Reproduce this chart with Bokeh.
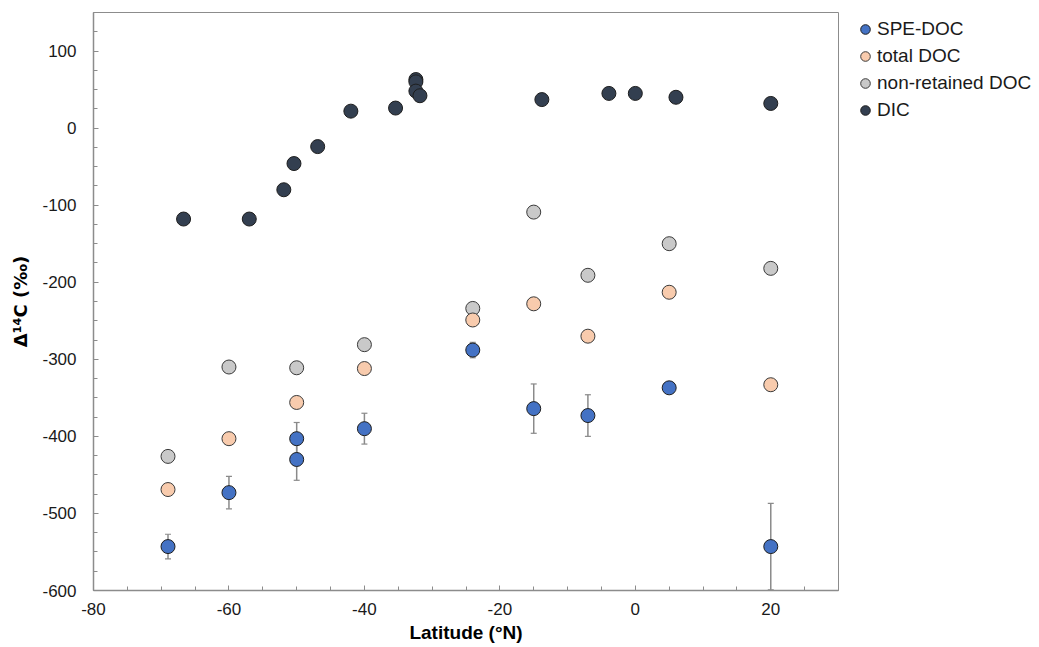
from bokeh.plotting import figure
from bokeh.models import (Range1d, SingleIntervalTicker, Whisker, ColumnDataSource,
                          Legend, LegendItem, TeeHead, PrintfTickFormatter)
from bokeh.embed import file_html
from bokeh.resources import INLINE

# SPE-DOC radiocarbon with analytical uncertainty
spe_lat = [-69, -60, -50, -50, -40, -24, -15, -7, 5, 20]
spe_d14c = [-543, -473, -403, -430, -390, -288, -364, -373, -337, -543]
spe_err = [16, 21, 21, 27, 20, 10, 32, 27, 0, 56]

# total DOC
tot_lat = [-69, -60, -50, -40, -24, -15, -7, 5, 20]
tot_d14c = [-469, -403, -356, -312, -249, -228, -270, -213, -333]

# non-retained DOC
nr_lat = [-69, -60, -50, -40, -24, -15, -7, 5, 20]
nr_d14c = [-426, -310, -311, -281, -234, -109, -191, -150, -182]

# DIC
dic_lat = [-66.7, -57, -51.9, -50.4, -46.9, -42, -35.4, -32.4, -32.4, -32.4, -31.8,
           -13.8, -3.9, 0, 6, 20]
dic_d14c = [-118, -118, -80, -46, -24, 22, 26, 63, 60, 48, 42, 37, 45, 45, 40, 32]

FONT = "Liberation Sans"
EDGE = "#3a3a3a"

p = figure(frame_width=745, frame_height=578, output_backend="svg",
           toolbar_location=None,
           x_range=Range1d(-80, 30), y_range=Range1d(-600, 150),
           min_border_left=93, min_border_right=201, min_border_top=12,
           min_border_bottom=57)
p.grid.visible = False
p.outline_line_color = "#8c8c8c"
p.outline_line_width = 1
p.background_fill_color = "white"
p.border_fill_color = "white"

p.xaxis.ticker = SingleIntervalTicker(interval=20, num_minor_ticks=4)
p.yaxis.ticker = SingleIntervalTicker(interval=100, num_minor_ticks=4)
p.xaxis.formatter = PrintfTickFormatter(format="%d")
p.yaxis.formatter = PrintfTickFormatter(format="%d")
for ax in (p.xaxis[0], p.yaxis[0]):
    ax.axis_line_color = "#8c8c8c"
    ax.axis_line_width = 1.5
    ax.major_tick_line_color = "#8c8c8c"
    ax.minor_tick_line_color = "#8c8c8c"
    ax.major_tick_in = 5
    ax.major_tick_out = 0
    ax.minor_tick_in = 4
    ax.minor_tick_out = 0
    ax.major_label_text_font = FONT
    ax.major_label_text_font_size = "17px"
    ax.major_label_text_color = "#1a1a1a"
    ax.axis_label_text_font = FONT
    ax.axis_label_text_font_size = "19px"
    ax.axis_label_text_font_style = "bold"
    ax.axis_label_text_color = "black"

p.xaxis.axis_label = "Latitude (°N)"
p.yaxis.axis_label = "Δ¹⁴C (‰)"
p.yaxis.axis_label_text_font = "DejaVu Sans"
p.yaxis.axis_label_text_font_size = "18px"
p.xaxis.major_label_standoff = 12
p.xaxis.axis_label_standoff = 4
p.yaxis.major_label_standoff = 17
p.yaxis.axis_label_standoff = 8

spe_src = ColumnDataSource(dict(
    x=spe_lat, y=spe_d14c,
    lo=[v - e for v, e in zip(spe_d14c, spe_err)],
    hi=[v + e for v, e in zip(spe_d14c, spe_err)],
))

wh = Whisker(source=spe_src, base="x", lower="lo", upper="hi",
             line_color="#8a8a8a", line_width=1.5, level="underlay",
             upper_head=TeeHead(size=6, line_color="#8a8a8a", line_width=1.2),
             lower_head=TeeHead(size=6, line_color="#8a8a8a", line_width=1.2))
p.add_layout(wh)

SIZE = 14
r_dic = p.scatter(dic_lat, dic_d14c, size=SIZE, fill_color="#333f50",
                  line_color="#1e1e1e", line_width=1)
r_nr = p.scatter(nr_lat, nr_d14c, size=SIZE, fill_color="#c9c9c9",
                 line_color=EDGE, line_width=1)
r_tot = p.scatter(tot_lat, tot_d14c, size=SIZE, fill_color="#f8cbad",
                  line_color=EDGE, line_width=1)
r_spe = p.scatter("x", "y", source=spe_src, size=SIZE, fill_color="#4472c4",
                  line_color="#1e1e1e", line_width=1)

legend = Legend(items=[
    LegendItem(label="SPE-DOC", renderers=[r_spe]),
    LegendItem(label="total DOC", renderers=[r_tot]),
    LegendItem(label="non-retained DOC", renderers=[r_nr]),
    LegendItem(label="DIC", renderers=[r_dic]),
], location=(15, 468))
legend.label_text_font = FONT
legend.label_text_font_size = "19px"
legend.label_text_color = "#1a1a1a"
legend.glyph_width = 24
legend.glyph_height = 24
legend.label_height = 24
legend.spacing = 3
legend.padding = 0
legend.margin = 0
legend.label_standoff = 0
legend.border_line_color = None
legend.background_fill_alpha = 0
p.add_layout(legend, "right")

open("out.html", "w").write(file_html(p, INLINE))
